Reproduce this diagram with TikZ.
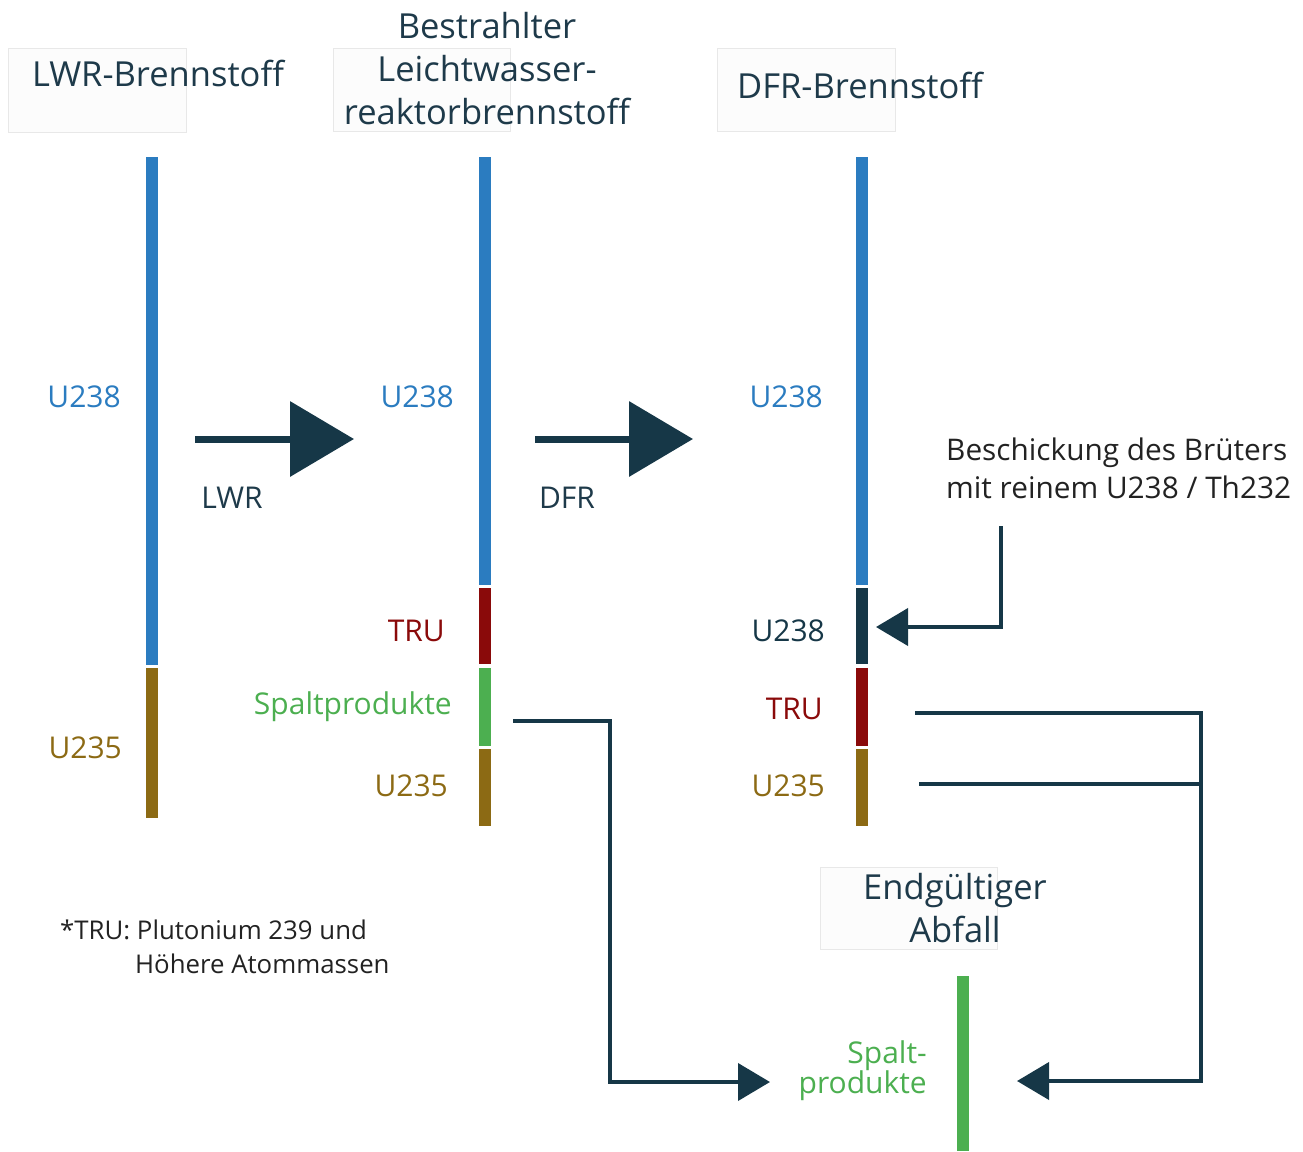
\documentclass[tikz,border=0pt]{standalone}
\usepackage{fontspec}
\setmainfont{Open Sans}
\usetikzlibrary{arrows.meta}
\definecolor{navy}{HTML}{163747}
\definecolor{ublue}{HTML}{2B7CC0}
\definecolor{ubrown}{HTML}{8C6A14}
\definecolor{ured}{HTML}{8A0A0A}
\definecolor{ugreen}{HTML}{4CAF50}
\definecolor{txt}{HTML}{222222}
\definecolor{ttl}{HTML}{1E3A4A}
\tikzset{
  titlebox/.style={draw=black!9, fill=black!1, line width=0.8pt},
  ttext/.style={inner sep=0pt, text=ttl, font=\fontsize{34.5}{43}\selectfont, align=center},
  lbl/.style={inner sep=0pt, font=\fontsize{30}{30}\selectfont, anchor=base east},
  note/.style={inner sep=0pt, text=txt, align=left},
  bigarrow/.style={draw=navy, line width=7pt, -{Triangle[length=64pt,width=74pt]}},
  conn/.style={draw=navy, line width=4pt},
  connarrow/.style={conn, -{Triangle[length=32pt,width=37pt]}},
}
\begin{document}
\begin{tikzpicture}[x=1pt,y=-1pt]
\useasboundingbox (0,0) rectangle (1303,1151);
% title boxes
\draw[titlebox] (8,48) rectangle (186,132);
\draw[titlebox] (333,48) rectangle (510,131);
\draw[titlebox] (717,48) rectangle (895,131);
\draw[titlebox] (820,867) rectangle (997,949);
\node[ttext] (t1) at (158,73) {LWR-Brennstoff};
\node[ttext] (t2) at (487,69) {Bestrahlter\\Leichtwasser-\\reaktorbrennstoff};
\node[ttext] (t3) at (860,85) {DFR-Brennstoff};
\node[ttext] (t4) at (955,908) {Endgültiger\\Abfall};
% bars column 1
\fill[ublue] (146,157) rectangle (158,665);
\fill[ubrown] (146,668) rectangle (158,818);
% bars column 2
\fill[ublue] (479,157) rectangle (491,585);
\fill[ured] (479,588) rectangle (491,664);
\fill[ugreen] (479,668) rectangle (491,746);
\fill[ubrown] (479,749) rectangle (491,826);
% bars column 3
\fill[ublue] (856,157) rectangle (868,585);
\fill[navy] (856,588) rectangle (868,664);
\fill[ured] (856,668) rectangle (868,746);
\fill[ubrown] (856,749) rectangle (868,826);
% final waste bar
\fill[ugreen] (957,976) rectangle (969,1151);
% labels
\node[lbl, text=ublue] (l1a) at (121,407) {U238};
\node[lbl, text=ubrown] (l1b) at (122,758) {U235};
\node[lbl, text=ublue] (l2a) at (454,407) {U238};
\node[lbl, text=ured] (l2b) at (445,641) {TRU};
\node[lbl, text=ugreen] (l2c) at (452,714) {Spaltprodukte};
\node[lbl, text=ubrown] (l2d) at (448,796) {U235};
\node[lbl, text=ublue] (l3a) at (823,407) {U238};
\node[lbl, text=navy] (l3b) at (825,641) {U238};
\node[lbl, text=ured] (l3c) at (823,719) {TRU};
\node[lbl, text=ubrown] (l3d) at (825,796) {U235};
\node[inner sep=0pt, text=ugreen, font=\fontsize{30}{30}\selectfont, align=right, anchor=east] (l4) at (927,1071) {Spalt-\\produkte};
% big arrows
\coordinate (a1s) at (195,439);
\coordinate (a1e) at (354,439);
\coordinate (a2s) at (535,439);
\coordinate (a2e) at (693,439);
\draw[bigarrow] (a1s) -- (a1e);
\draw[bigarrow] (a2s) -- (a2e);
\node[inner sep=0pt, text=ttl, font=\fontsize{30}{30}\selectfont, anchor=base] (lwr) at (232,508) {LWR};
\node[inner sep=0pt, text=ttl, font=\fontsize{30}{30}\selectfont, anchor=base] (dfr) at (567,508) {DFR};
% breeder feed
\node[note, font=\fontsize{29.8}{38}\selectfont, anchor=west] (feed) at (946,468) {Beschickung des Brüters\\mit reinem U238 / Th232};
\coordinate (fs) at (1001,526);
\coordinate (fe) at (876,627);
\draw[connarrow] (fs) |- (fe);
% fission products to waste
\coordinate (sps) at (513,721);
\coordinate (spe) at (770,1082);
\draw[connarrow] (sps) -- ++(97,0) |- (spe);
% TRU and U235 back
\coordinate (trs) at (915,713);
\coordinate (tre) at (1017,1081);
\coordinate (us) at (919,784);
\coordinate (uj) at (1201,784);
\draw[connarrow] (trs) -- ++(286,0) |- (tre);
\draw[conn] (us) -- (uj);
% footnote
\node[note, font=\fontsize{25.8}{34}\selectfont, anchor=north west] (fn) at (60,920) {*TRU: Plutonium 239 und\\\hspace*{75pt}Höhere Atommassen};
\end{tikzpicture}
\end{document}
